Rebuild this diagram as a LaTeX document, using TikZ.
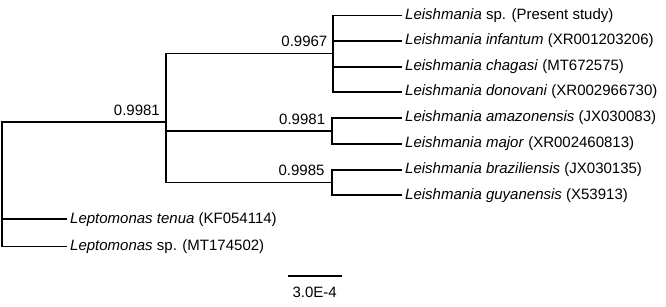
\documentclass[tikz,border=0pt]{standalone}
\usepackage{fontspec}
\setmainfont{Liberation Sans}
\begin{document}
\begin{tikzpicture}[x=1pt,y=-1pt,
  branch/.style={line width=1.8pt,line join=miter,line cap=rect},
  leaf/.style={anchor=west,inner sep=0pt,font=\fontsize{15}{18}\selectfont},
  boot/.style={anchor=east,inner sep=0pt,font=\fontsize{15}{18}\selectfont},
  scalelab/.style={inner sep=0pt,font=\fontsize{15}{18}\selectfont}]
\useasboundingbox (0,0) rectangle (666,306);
% internal nodes
\coordinate (r) at (1.6,180);
\coordinate (A) at (166,122);
\coordinate (C1) at (333,53.5);
\coordinate (C2) at (332.3,130.7);
\coordinate (C3) at (331.7,182.5);
% leaf tips
\coordinate (t1) at (401,15.5);
\coordinate (t2) at (401,41);
\coordinate (t3) at (401,66.7);
\coordinate (t4) at (401,91.7);
\coordinate (t5) at (401,117.7);
\coordinate (t6) at (401,143.7);
\coordinate (t7) at (401,170);
\coordinate (t8) at (401,195.2);
\coordinate (t9) at (66,219.3);
\coordinate (t10) at (66,246.5);
% leaf labels
\node[leaf] (l1) at ([xshift=4pt]t1) {\textit{Leishmania} sp. (Present study)};
\node[leaf] (l2) at ([xshift=4pt]t2) {\textit{Leishmania infantum} (XR001203206)};
\node[leaf] (l3) at ([xshift=4pt]t3) {\textit{Leishmania chagasi} (MT672575)};
\node[leaf] (l4) at ([xshift=4pt]t4) {\textit{Leishmania donovani} (XR002966730)};
\node[leaf] (l5) at ([xshift=4pt]t5) {\textit{Leishmania amazonensis} (JX030083)};
\node[leaf] (l6) at ([xshift=4pt]t6) {\textit{Leishmania major} (XR002460813)};
\node[leaf] (l7) at ([xshift=4pt]t7) {\textit{Leishmania braziliensis} (JX030135)};
\node[leaf] (l8) at ([xshift=4pt]t8) {\textit{Leishmania guyanensis} (X53913)};
\node[leaf] (l9) at ([xshift=4pt]t9) {\textit{Leptomonas tenua} (KF054114)};
\node[leaf] (l10) at ([xshift=4pt]t10) {\textit{Leptomonas} sp. (MT174502)};
% branches
\draw[branch] (r) |- (A);
\draw[branch] (r) |- (t9);
\draw[branch] (r) |- (t10);
\draw[branch] (A) |- (C1);
\draw[branch] (A) |- (C2);
\draw[branch] (A) |- (C3);
\draw[branch] (C1) |- (t1);
\draw[branch] (C1) |- (t2);
\draw[branch] (C1) |- (t3);
\draw[branch] (C1) |- (t4);
\draw[branch] (C2) |- (t5);
\draw[branch] (C2) |- (t6);
\draw[branch] (C3) |- (t7);
\draw[branch] (C3) |- (t8);
% bootstrap values
\node[boot] (bA) at ([xshift=-6pt,yshift=12pt]A) {0.9981};
\node[boot] (b1) at ([xshift=-5.5pt,yshift=12.5pt]C1) {0.9967};
\node[boot] (b2) at ([xshift=-7pt,yshift=11.2pt]C2) {0.9981};
\node[boot] (b3) at ([xshift=-7pt,yshift=12pt]C3) {0.9985};
% scale bar
\coordinate (s1) at (287.5,276);
\coordinate (s2) at (341.5,276);
\draw[branch,line cap=butt] (s1) -- (s2);
\node[scalelab] (sl) at (314.7,292.5) {3.0E-4};
\end{tikzpicture}
\end{document}
